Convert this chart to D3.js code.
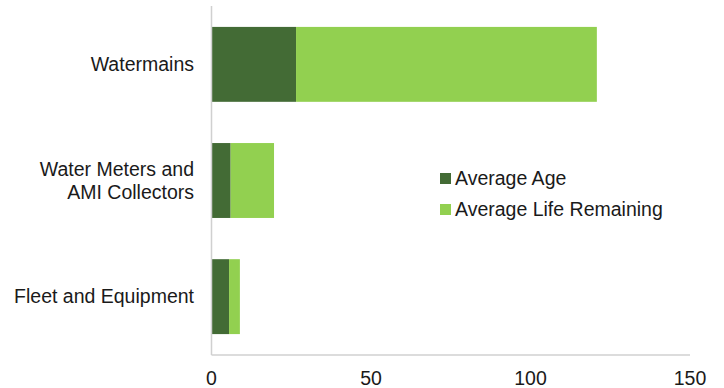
<!DOCTYPE html>
<meta charset="utf-8">
<html>
<head>
<title>Asset age</title>
<style>
  body { margin: 0; background: #fff; }
  text { font-family: "Liberation Sans", Arial, sans-serif; fill: #1a1a1a; }
</style>
<script src="https://cdn.jsdelivr.net/npm/d3@7/dist/d3.min.js"></script>
</head>
<body>
<script>

    var categories = ["Watermains", "Water Meters and AMI Collectors", "Fleet and Equipment"];
    var catLines = [["Watermains"], ["Water Meters and", "AMI Collectors"], ["Fleet and Equipment"]];
    var avgAge = [26.5, 6, 5.5];
    var lifeRemaining = [94.3, 13.6, 3.4];
    var seriesNames = ["Average Age", "Average Life Remaining"];
    var colors = ["#436b35", "#92d050"];
    var xTicks = [0, 50, 100, 150];

    var width = 724, height = 388;
    var margin = {top: 6, right: 34, bottom: 33, left: 211.5};
    var fontSize = "19.5px";

    var svg = d3.select("body").append("svg")
        .attr("width", width)
        .attr("height", height);

    var x = d3.scaleLinear().domain([0, 150]).range([margin.left, width - margin.right]);
    var y = d3.scaleBand().domain(categories).range([margin.top, height - margin.bottom]).paddingInner(0.355).paddingOuter(0.18);

    // stacked data
    var rows = categories.map(function(c, i) { return {cat: c, age: avgAge[i], rem: lifeRemaining[i]}; });
    var stacked = d3.stack().keys(["age", "rem"])(rows);

    svg.selectAll("g.series")
      .data(stacked)
      .enter().append("g")
      .attr("fill", function(d, i) { return colors[i]; })
      .selectAll("rect")
      .data(function(d) { return d; })
      .enter().append("rect")
      .attr("x", function(d) { return x(d[0]); })
      .attr("width", function(d) { return x(d[1]) - x(d[0]); })
      .attr("y", function(d) { return y(d.data.cat); })
      .attr("height", y.bandwidth());

    // axes lines
    svg.append("line")
      .attr("x1", x(0)).attr("x2", x(0))
      .attr("y1", margin.top).attr("y2", height - margin.bottom)
      .attr("stroke", "#d0d0d0").attr("stroke-width", 1.5);
    svg.append("line")
      .attr("x1", x(0)).attr("x2", x(150))
      .attr("y1", height - margin.bottom).attr("y2", height - margin.bottom)
      .attr("stroke", "#d0d0d0").attr("stroke-width", 1.5);

    // x tick labels
    svg.selectAll("text.xt")
      .data(xTicks)
      .enter().append("text")
      .attr("class", "xt")
      .attr("x", function(d) { return x(d); })
      .attr("y", 384.5)
      .attr("text-anchor", "middle")
      .style("font-size", fontSize)
      .text(function(d) { return d; });

    // category labels
    categories.forEach(function(c, i) {
      var lines = catLines[i];
      var cy = y(c) + y.bandwidth() / 2;
      var lh = 23;
      var t = svg.append("text")
        .attr("text-anchor", "end")
        .style("font-size", fontSize);
      lines.forEach(function(l, j) {
        t.append("tspan")
          .attr("x", 194)
          .attr("y", cy + 6.5 + (j - (lines.length - 1) / 2) * lh)
          .text(l);
      });
    });

    // legend
    var legend = svg.append("g").attr("transform", "translate(440,178)");
    seriesNames.forEach(function(s, i) {
      var g = legend.append("g").attr("transform", "translate(0," + (i * 31) + ")");
      g.append("rect").attr("x", 0).attr("y", -5).attr("width", 11).attr("height", 11).attr("fill", colors[i]);
      g.append("text").attr("x", 15).attr("y", 6.5).style("font-size", fontSize).text(s);
    });

</script>
</body>
</html>
